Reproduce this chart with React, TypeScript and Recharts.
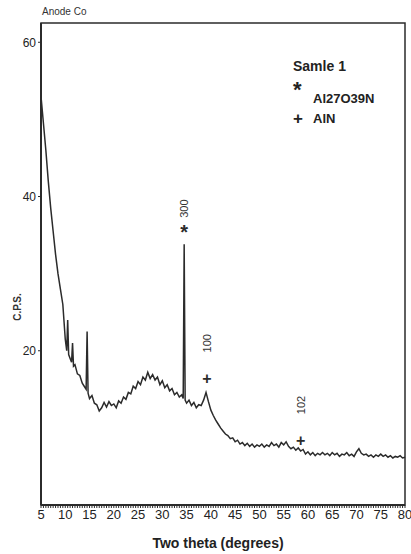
import React from 'react';
import { LineChart, Line, XAxis, YAxis, ReferenceArea, ReferenceDot } from 'recharts';

// 2θ positions (degrees), extra points around the sharp spikes
const theta = [
  5, 5.5, 6, 6.5, 7, 7.5, 8, 8.5, 9, 9.5, 10, 10.3, 10.5, 10.7, 11, 11.3, 11.5, 11.7, 12, 12.5,
  13, 13.5, 14, 14.3, 14.5, 14.7, 15, 15.5, 16, 16.5, 17, 17.5, 18, 18.5, 19, 19.5, 20, 20.5,
  21, 21.5, 22, 22.5, 23, 23.5, 24, 24.5, 25, 25.5, 26, 26.5, 27, 27.5, 28, 28.5, 29, 29.5,
  30, 30.5, 31, 31.5, 32, 32.5, 33, 33.5, 34, 34.3, 34.5, 34.7, 35, 35.5, 36, 36.5, 37, 37.5,
  38, 38.5, 39, 39.5, 40, 40.5, 41, 41.5, 42, 42.5, 43, 43.5, 44, 44.5, 45, 45.5, 46, 46.5,
  47, 47.5, 48, 48.5, 49, 49.5, 50, 50.5, 51, 51.5, 52, 52.5, 53, 53.5, 54, 54.5, 55, 55.5,
  56, 56.5, 57, 57.5, 58, 58.5, 59, 59.5, 60, 60.5, 61, 61.5, 62, 62.5, 63, 63.5, 64, 64.5,
  65, 65.5, 66, 66.5, 67, 67.5, 68, 68.5, 69, 69.5, 70, 70.5, 71, 71.5, 72, 72.5, 73, 73.5,
  74, 74.5, 75, 75.5, 76, 76.5, 77, 77.5, 78, 78.5, 79, 79.5, 80,
];

// counts per second at each 2θ
const cps = [
  53, 49.5, 46, 42, 38.5, 35.5, 32.5, 30, 28, 26, 21.5, 20, 24, 19.5, 19, 18.5, 21, 18, 18.2, 17,
  16.8, 15.8, 15.3, 15, 22.5, 14.5, 13.8, 14.2, 13.2, 13, 12.2, 12.6, 13.3, 12.7, 13.4, 12.9, 13.1, 12.6,
  13.5, 13.2, 14, 13.7, 14.6, 14.4, 15.4, 15.1, 16, 15.6, 16.6, 16.2, 17.2, 16.4, 16.9, 16.2, 16.6, 15.6,
  16.1, 15.2, 15.6, 14.8, 15.1, 14.3, 14.6, 14, 14.3, 13.8, 33.8, 13.6, 13.2, 13.6, 12.9, 13.3, 12.6, 13,
  12.9, 13.6, 14.6, 13.4, 12.3, 11.6, 11, 10.5, 10, 9.6, 9.2, 9, 8.6, 8.7, 8.2, 8.4, 7.9, 8.1,
  7.7, 8, 7.6, 7.9, 7.5, 7.8, 7.6, 7.9, 7.5, 7.8, 7.6, 8.1, 7.7, 7.9, 7.5, 8.1, 7.8, 8.2,
  7.6, 7.3, 7.5, 7.1, 7.4, 7, 7.2, 6.6, 6.9, 6.5, 6.8, 6.4, 6.7, 6.5, 6.8, 6.5, 6.7, 6.4,
  6.8, 6.5, 6.7, 6.3, 6.6, 6.5, 6.8, 6.4, 6.6, 6.3, 6.9, 7.3, 6.7, 6.5, 6.6, 6.3, 6.5, 6.2,
  6.5, 6.3, 6.6, 6.3, 6.5, 6.2, 6.4, 6.1, 6.3, 6.2, 6.4, 6.1, 6.2,
];

const yTicks = [20, 40, 60];
const xLabels = [5, 10, 15, 20, 25, 30, 35, 40, 45, 50, 55, 60, 65, 70, 75, 80];

// indexed reflections
const peaks = [
  { theta: 34.5, cps: 35.7, symbol: '*', hkl: '300' },
  { theta: 39.2, cps: 16.3, symbol: '+', hkl: '100' },
  { theta: 58.5, cps: 8.3, symbol: '+', hkl: '102' },
];

const data = theta.map((t, i) => ({ theta: t, cps: cps[i] }));
// minor ticks every half degree, labels only on the multiples of 5
const xTicks = Array.from({ length: 151 }, (_, i) => 5 + i * 0.5);

const font = '"Liberation Sans", Arial, sans-serif';
const narrow = '"Liberation Sans Narrow", ' + font;
const ink = '#2b2b2b';

const PeakMark = (props: any) => {
  const { cx, cy, symbol, hkl } = props;
  const star = symbol === '*';
  return (
    <g>
      <text
        x={cx}
        y={star ? cy + 9 : cy + 5}
        textAnchor="middle"
        fontFamily={font}
        fontWeight="bold"
        fontSize={star ? 20 : 16}
        fill={ink}
      >
        {symbol}
      </text>
      <text
        transform={`translate(${cx + 4},${cy - (star ? 21 : 36)}) rotate(-90)`}
        textAnchor="middle"
        fontFamily={font}
        fontSize={11}
        fill="#333"
      >
        {hkl}
      </text>
    </g>
  );
};

export default function App() {
  return (
    <div style={{ position: 'absolute', left: 0, top: 0, width: 411, height: 554, background: '#fff' }}>
      <LineChart width={411} height={554} data={data} margin={{ top: 23, right: 6, bottom: 0, left: 0 }}>
        <XAxis
          dataKey="theta"
          type="number"
          domain={[5, 80]}
          ticks={xTicks}
          interval={0}
          tickFormatter={(v: number) => (xLabels.includes(v) ? String(v) : '')}
          tickSize={3}
          tickLine={{ stroke: ink }}
          axisLine={{ stroke: ink, strokeWidth: 2 }}
          tick={{ fill: '#222', fontSize: 13, fontFamily: narrow }}
          height={49}
        />
        <YAxis
          type="number"
          domain={[0, 62.5]}
          ticks={yTicks}
          tickSize={3}
          tickLine={{ stroke: ink }}
          axisLine={{ stroke: ink, strokeWidth: 2 }}
          tick={{ fill: '#222', fontSize: 12, fontFamily: narrow }}
          width={41}
        />
        <ReferenceArea x1={5} x2={80} y1={0} y2={62.5} fill="none" stroke={ink} strokeWidth={1.5} />
        <Line
          type="linear"
          dataKey="cps"
          stroke={ink}
          strokeWidth={1.5}
          dot={false}
          isAnimationActive={false}
        />
        {peaks.map((p) => (
          <ReferenceDot
            key={p.hkl}
            x={p.theta}
            y={p.cps}
            r={0}
            shape={(props: any) => <PeakMark {...props} symbol={p.symbol} hkl={p.hkl} />}
          />
        ))}
      </LineChart>

      <div style={{ position: 'absolute', left: 42, top: 6, fontFamily: narrow, fontSize: 10, color: '#333' }}>
        Anode Co
      </div>

      <div
        style={{
          position: 'absolute', left: 17, top: 307, transform: 'translate(-50%, -50%) rotate(-90deg)',
          fontFamily: font, fontWeight: 'bold', fontSize: 10, color: '#333', whiteSpace: 'nowrap',
        }}
      >
        C.P.S.
      </div>

      <div
        style={{
          position: 'absolute', left: 218, top: 543, transform: 'translate(-50%, -50%)',
          fontFamily: font, fontWeight: 'bold', fontSize: 14, color: '#222', whiteSpace: 'nowrap',
        }}
      >
        Two theta (degrees)
      </div>

      <div style={{ position: 'absolute', left: 293, top: 57, fontFamily: font, fontWeight: 'bold', color: '#222' }}>
        <div style={{ fontSize: 14, lineHeight: '18px' }}>Samle 1</div>
        <div style={{ position: 'relative', height: 34 }}>
          <span style={{ position: 'absolute', left: 0, top: 2, fontSize: 22 }}>*</span>
          <span style={{ position: 'absolute', left: 20, top: 16, fontSize: 13 }}>Al27O39N</span>
        </div>
        <div style={{ position: 'relative', height: 20 }}>
          <span style={{ position: 'absolute', left: 0, top: 0, fontSize: 17 }}>+</span>
          <span style={{ position: 'absolute', left: 20, top: 2, fontSize: 13 }}>AlN</span>
        </div>
      </div>
    </div>
  );
}
